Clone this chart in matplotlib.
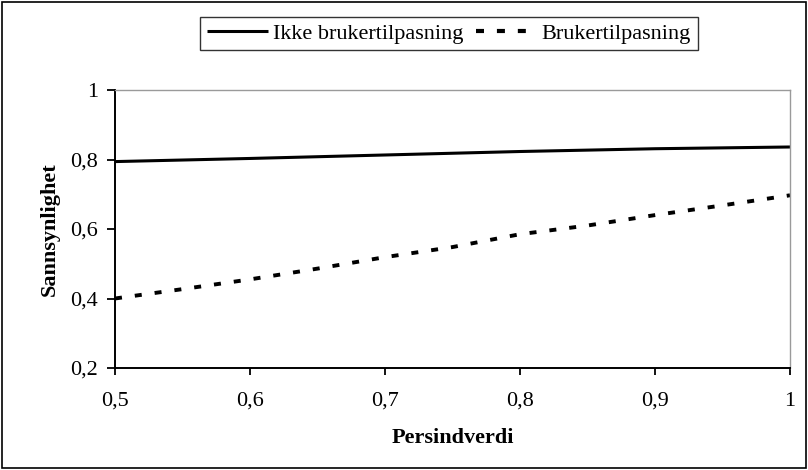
import matplotlib
matplotlib.use("Agg")
import matplotlib.pyplot as plt
from matplotlib.patches import Rectangle
from matplotlib.lines import Line2D

plt.rcParams['font.family'] = ['Liberation Serif', 'DejaVu Serif']

x_solid = [0.5, 0.6, 0.7, 0.8, 0.9, 1.0]
y_solid = [0.794, 0.803, 0.813, 0.823, 0.831, 0.836]

x_dot = [0.50, 0.55, 0.60, 0.65, 0.70, 0.75, 0.80, 0.85, 0.90, 0.95, 1.00]
y_dot = [0.400, 0.427, 0.455, 0.486, 0.519, 0.548, 0.585, 0.610, 0.640, 0.668, 0.697]

series_names = ['Ikke brukertilpasning', 'Brukertilpasning']

xticks = [0.5, 0.6, 0.7, 0.8, 0.9, 1.0]
xticklabels = ["0,5", "0,6", "0,7", "0,8", "0,9", "1"]
yticks = [0.2, 0.4, 0.6, 0.8, 1.0]
yticklabels = ["0,2", "0,4", "0,6", "0,8", "1"]

W, H = 808, 470
FS = 16
fig = plt.figure(figsize=(W / 100, H / 100), dpi=100)
ax = fig.add_axes([115 / W, 1 - 368 / H, (790 - 115) / W, (368 - 90) / H])

ax.plot(x_solid, y_solid, color='black', lw=2.2, solid_capstyle='butt', label=series_names[0])
ax.plot(x_dot, y_dot, color='black', lw=2.8, linestyle=(0, (1.8, 3.34)), dash_capstyle='butt',
        label=series_names[1])

ax.set_xlim(0.5, 1.0)
ax.set_ylim(0.2, 1.0)
ax.set_xticks(xticks)
ax.set_xticklabels(xticklabels)
ax.set_yticks(yticks)
ax.set_yticklabels(yticklabels)
ax.tick_params(axis='both', direction='out', width=1.3, labelsize=FS, color='black')
ax.tick_params(axis='x', length=5, pad=12)
ax.tick_params(axis='y', length=6, pad=6)

for s in ['left', 'bottom']:
    ax.spines[s].set_linewidth(1.4)
    ax.spines[s].set_color('black')
for s in ['top', 'right']:
    ax.spines[s].set_linewidth(1.0)
    ax.spines[s].set_color('#9a9a9a')

ax.set_xlabel('Persindverdi', fontsize=FS, fontweight='bold')
ax.set_ylabel('Sannsynlighet', fontsize=FS, fontweight='bold')
ax.xaxis.set_label_coords(0.5, (368 - 428) / 278)
ax.yaxis.set_label_coords((60 - 115) / 675, 0.5)

handles = [Line2D([], [], color='black', lw=2.2, solid_capstyle='butt'),
           Line2D([], [], color='black', lw=3.0, linestyle=(0, (1.92, 3.1)), dash_capstyle='butt')]
leg = fig.legend(handles, series_names, loc='center', bbox_to_anchor=(449 / W, 1 - 33.5 / H), ncol=2,
                 fontsize=FS, frameon=True, fancybox=False, edgecolor='black', handlelength=2.75,
                 handletextpad=0.22, columnspacing=0.55, borderpad=0.3, borderaxespad=0)
leg.get_frame().set_linewidth(1.0)

fig.patches.append(Rectangle((2 / W, 2 / H), 1 - 4 / W, 1 - 4 / H, transform=fig.transFigure,
                             fill=False, edgecolor='black', lw=1.2))

fig.savefig('out.png', dpi=100)
